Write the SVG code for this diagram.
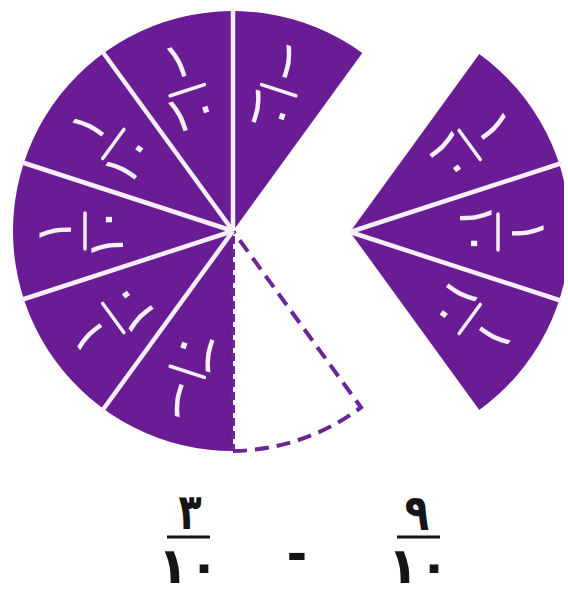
<svg xmlns="http://www.w3.org/2000/svg" width="568" height="602" viewBox="0 0 568 602">
<defs>
<style>
.slice{fill:#6a1c94}
.sep{stroke:#f6eef8;stroke-width:4.5}
.lbl{font-family:"DejaVu Sans",sans-serif;font-size:50px;fill:#f6eef8;text-anchor:middle}
.bar{stroke:#f6eef8;stroke-width:3.5;stroke-linecap:round}
.dash{fill:none;stroke:#6c2596;stroke-width:4}
.eq{font-family:"DejaVu Sans",sans-serif;font-weight:bold;font-size:50px;fill:#151515;text-anchor:middle}
.eqbar{stroke:#151515;stroke-width:3}
</style>
<clipPath id="clipR"><rect x="0" y="0" width="564" height="602"/></clipPath>
</defs>
<rect width="568" height="602" fill="#ffffff"/>

<g id="left-pie">
  <path class="slice" d="M233,231 L362.3,53 A220,220 0 1 0 233,451 Z"/>
</g>
<g id="taken-slice">
  <path class="dash" stroke-dasharray="14 8" d="M233,451 A218,218 0 0 0 361,407.4 L233,231"/>
  <path class="dash" stroke-dasharray="8 5" d="M233,236 L233,451"/>
</g>
<g id="right-pie" clip-path="url(#clipR)">
  <path class="slice" d="M350,232 L479.3,54 A220,220 0 0 1 479.3,410 Z"/>
</g>

<g id="separators">
  <line class="sep" x1="233" y1="231" x2="233" y2="8"/>
  <line class="sep" x1="233" y1="231" x2="102" y2="51"/>
  <line class="sep" x1="233" y1="231" x2="21" y2="162"/>
  <line class="sep" x1="233" y1="231" x2="21" y2="300"/>
  <line class="sep" x1="233" y1="231" x2="102" y2="411"/>
  <line class="sep" x1="350" y1="232" x2="562" y2="163"/>
  <line class="sep" x1="350" y1="232" x2="562" y2="301"/>
</g>

<g id="label-1" transform="translate(278.7,90.2) rotate(18)">
  <text class="lbl" x="0" y="-14">١</text><line class="bar" x1="-18" y1="0" x2="18" y2="0"/><text class="lbl" x="-2" y="38">١٠</text>
</g>
<g id="label-2" transform="translate(187.3,90.2) rotate(-18)">
  <text class="lbl" x="0" y="-14">١</text><line class="bar" x1="-18" y1="0" x2="18" y2="0"/><text class="lbl" x="-2" y="38">١٠</text>
</g>
<g id="label-3" transform="translate(113.3,144) rotate(-54)">
  <text class="lbl" x="0" y="-14">١</text><line class="bar" x1="-18" y1="0" x2="18" y2="0"/><text class="lbl" x="-2" y="38">١٠</text>
</g>
<g id="label-4" transform="translate(85,231) rotate(-90)">
  <text class="lbl" x="0" y="-14">١</text><line class="bar" x1="-18" y1="0" x2="18" y2="0"/><text class="lbl" x="-2" y="38">١٠</text>
</g>
<g id="label-5" transform="translate(113.3,318) rotate(-126)">
  <text class="lbl" x="0" y="-14">١</text><line class="bar" x1="-18" y1="0" x2="18" y2="0"/><text class="lbl" x="-2" y="38">١٠</text>
</g>
<g id="label-6" transform="translate(187.3,371.8) rotate(198)">
  <text class="lbl" x="0" y="-14">١</text><line class="bar" x1="-18" y1="0" x2="18" y2="0"/><text class="lbl" x="-2" y="38">١٠</text>
</g>
<g id="label-7" transform="translate(469.7,145) rotate(54)">
  <text class="lbl" x="0" y="-14">١</text><line class="bar" x1="-18" y1="0" x2="18" y2="0"/><text class="lbl" x="-2" y="38">١٠</text>
</g>
<g id="label-8" transform="translate(498,232) rotate(90)">
  <text class="lbl" x="0" y="-14">١</text><line class="bar" x1="-18" y1="0" x2="18" y2="0"/><text class="lbl" x="-2" y="38">١٠</text>
</g>
<g id="label-9" transform="translate(469.7,319) rotate(126)">
  <text class="lbl" x="0" y="-14">١</text><line class="bar" x1="-18" y1="0" x2="18" y2="0"/><text class="lbl" x="-2" y="38">١٠</text>
</g>

<g id="fraction-3-10">
  <text class="eq" transform="translate(190,529) scale(0.76,1)" x="0" y="0">٣</text>
  <line class="eqbar" x1="167" y1="537" x2="210" y2="537"/>
  <text class="eq" x="173 204" y="583">١٠</text>
</g>
<g id="minus">
  <text class="eq" x="297" y="571" font-size="70">-</text>
</g>
<g id="fraction-9-10">
  <text class="eq" transform="translate(417,530) scale(0.8,1)" x="0" y="0">٩</text>
  <line class="eqbar" x1="397" y1="537" x2="440" y2="537"/>
  <text class="eq" x="403 434" y="583">١٠</text>
</g>
</svg>
